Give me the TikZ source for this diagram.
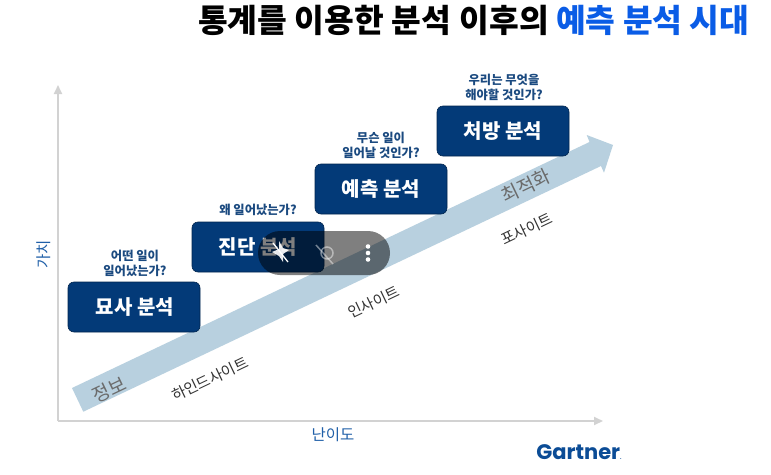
\documentclass[tikz,border=0pt]{standalone}
\usepackage{fontspec}
\setmainfont{Noto Sans CJK KR}
\newfontfamily\latf{Poppins}
\usetikzlibrary{arrows.meta}
\definecolor{boxblue}{HTML}{033A78}
\definecolor{boxedge}{HTML}{02264F}
\definecolor{askblue}{HTML}{1B4A80}
\definecolor{axisgray}{HTML}{D2D2D2}
\definecolor{flowblue}{HTML}{B8D0DF}
\definecolor{titleblue}{HTML}{0A5CE6}
\definecolor{axisblue}{HTML}{1F5FA8}
\definecolor{gartnerblue}{HTML}{0B4C96}
\tikzset{
  stagebox/.style={rectangle,rounded corners=6pt,fill=boxblue,draw=boxedge,line width=.6pt,
    minimum width=132pt,minimum height=50pt,inner sep=0pt,text=white,font=\fontsize{20}{22}\selectfont\bfseries},
  askq/.style={align=center,text=askblue,inner sep=0pt,font=\fontsize{12.3}{15}\selectfont\bfseries},
  onflow/.style={rotate=25.5,inner sep=0pt,text=black!58,font=\fontsize{19}{21}\selectfont},
  belowflow/.style={rotate=25.5,inner sep=0pt,text=black!80,font=\fontsize{15}{17}\selectfont},
  axisline/.style={draw=axisgray,line width=2pt,-{Triangle[length=9pt,width=8pt]}},
  axistext/.style={inner sep=0pt,text=axisblue,font=\fontsize{15.5}{17}\selectfont},
  titletext/.style={inner sep=0pt,anchor=west,font=\fontsize{32.3}{34}\selectfont\bfseries}
}
\begin{document}
\begin{tikzpicture}[x=1pt,y=-1pt]
\useasboundingbox (0,0) rectangle (771,474);
\fill[white] (0,0) rectangle (771,474);
% title
\node[titletext] (t1) at (198,20) {통계를 이용한 분석\hspace{9pt}이후의};
\node[titletext,text=titleblue] (t2) at (556,20) {예측 분석 시대};
% axes
\coordinate (org) at (58,421);
\coordinate (ytop) at (58,85);
\coordinate (xend) at (603,421);
\draw[axisline] (org) -- (ytop);
\draw[axisline] (org) -- (xend);
\node[axistext,rotate=90] (ylab) at (44,254) {가치};
\node[axistext] (xlab) at (333,435) {난이도};
% flow arrow
\fill[flowblue] (72,388) -- (589.5,142) -- (586.7,135) -- (613,145) -- (604,172.7) -- (601,166) -- (83.3,411.7) -- cycle;
% boxes
\node[stagebox] (b1) at (134,307) {\hspace{2pt}묘사 분석};
\node[stagebox] (b2) at (258,247) {진단 분석};
\node[stagebox] (b3) at (381,189) {예측 분석};
\node[stagebox] (b4) at (503,131) {처방 분석};
% questions
\node[askq] (q1) at (135,263) {어떤 일이\\일어났는가?};
\node[askq] (q2) at (258,210) {왜 일어났는가?};
\node[askq] (q3) at (381,145) {무슨 일이\\일어날 것인가?};
\node[askq] (q4) at (504,87) {우리는 무엇을\\해야할 것인가?};
% flow labels
\node[onflow] (f1) at (109,390) {정보};
\node[onflow] (f2) at (526,186) {최적화};
\node[belowflow] (l1) at (210,379) {하인드사이트};
\node[belowflow] (l2) at (374,302) {인사이트};
\node[belowflow] (l3) at (527,229) {포사이트};
% Gartner
\node[inner sep=0pt,text=gartnerblue] (g) at (579,452) {\latf\fontsize{21}{23}\selectfont\bfseries Gartner\raisebox{0pt}{\fontsize{5}{5}\selectfont.}};
% player overlay
\fill[black,opacity=.5,rounded corners=22pt] (258,231) rectangle (390,275);
\fill[white,opacity=.9] (279,241) -- (283,248) -- (289,250) -- (283,254) -- (283,262) -- (279,256) -- (272,252) -- (279,249) -- cycle;
\draw[white,line width=1.3pt] (273,243) -- (288,262);
\begin{scope}[white,opacity=.45]
\draw[line width=1.5pt] (327,253) circle (6pt);
\draw[line width=1.5pt] (316,245) -- (333,264);
\end{scope}
\fill[white] (368,246.5) circle (2.3pt) (368,253) circle (2.3pt) (368,259.5) circle (2.3pt);
\end{tikzpicture}
\end{document}
